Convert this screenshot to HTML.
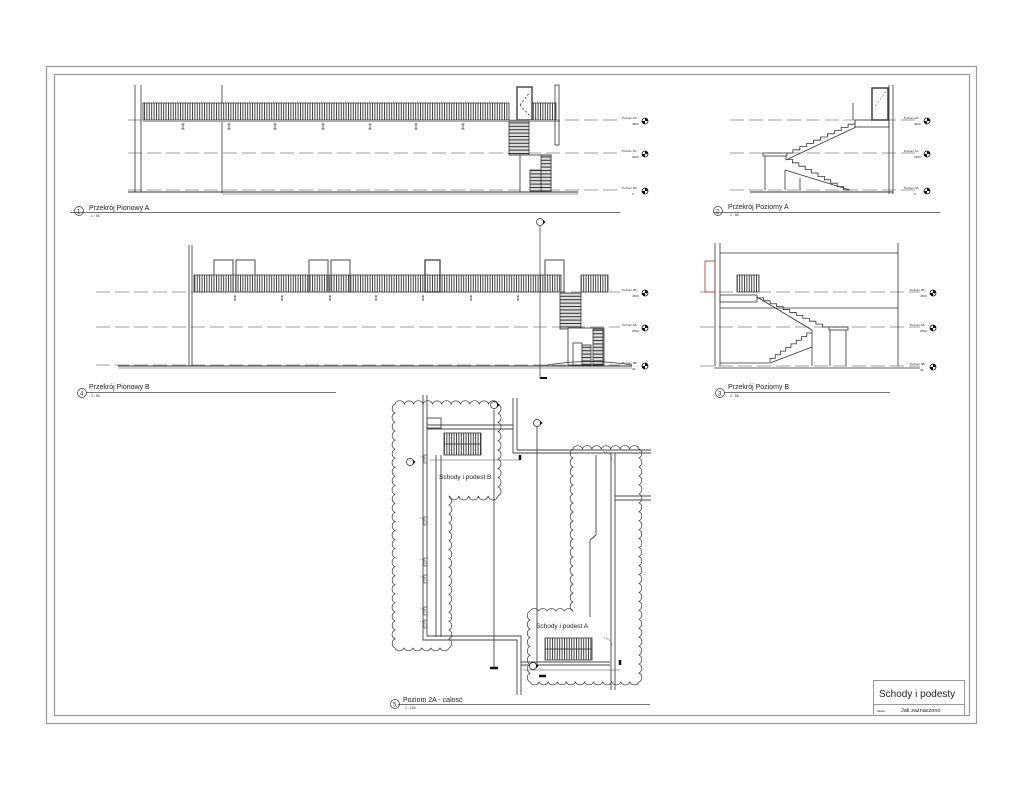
<!DOCTYPE html>
<html><head><meta charset="utf-8"><style>
html,body{margin:0;padding:0;background:#fff;width:1024px;height:791px;overflow:hidden}
svg{display:block}
text{font-family:"Liberation Sans",sans-serif;fill:#222}
</style></head><body>
<svg id="s" width="1024" height="791" viewBox="0 0 1024 791" xmlns="http://www.w3.org/2000/svg">
<defs>
<pattern id="rail" width="2.4" height="10" patternUnits="userSpaceOnUse"><rect width="2.4" height="10" fill="#fff"/><rect width="0.9" height="10" fill="#333"/></pattern>
<pattern id="stair" width="10" height="3.4" patternUnits="userSpaceOnUse"><rect width="10" height="3.4" fill="#ddd"/><rect width="10" height="1" fill="#333"/></pattern>
</defs>
<!-- frames -->
<rect x="46.5" y="66.5" width="930" height="657" fill="none" stroke="#999" stroke-width="1.2"/>
<rect x="54.5" y="74.5" width="915" height="641" fill="none" stroke="#999" stroke-width="1.2"/>
<rect x="873.5" y="680.5" width="91" height="35" fill="none" stroke="#999"/>
<line x1="873" y1="704.5" x2="964" y2="704.5" stroke="#999"/>
<text x="879" y="697" font-size="10">Schody i podesty</text>
<text x="877" y="712" font-size="3">Skala</text>
<text x="901" y="712" font-size="5.5">Jak zaznaczono</text>

<g id="levels" stroke="#444" stroke-width="0.6" stroke-dasharray="14,5" fill="none">
<line x1="128" y1="120" x2="620" y2="120"/><line x1="128" y1="153" x2="620" y2="153"/><line x1="128" y1="190" x2="620" y2="190"/>
<line x1="730" y1="120" x2="915" y2="120"/><line x1="730" y1="153" x2="915" y2="153"/><line x1="730" y1="190" x2="915" y2="190"/>
<line x1="96" y1="292" x2="620" y2="292"/><line x1="96" y1="327" x2="620" y2="327"/><line x1="96" y1="365" x2="620" y2="365"/>
<line x1="700" y1="292" x2="920" y2="292"/><line x1="700" y1="327" x2="920" y2="327"/><line x1="700" y1="366" x2="920" y2="366"/>
</g>
<g id="marks"></g>

<!-- Section 1 -->
<g stroke="#333" stroke-width="0.8" fill="none">
<line x1="135" y1="85" x2="135" y2="192"/><line x1="141" y1="85" x2="141" y2="192"/>
<line x1="222" y1="85" x2="222" y2="193"/>
<rect x="143" y="103" width="366" height="17" fill="url(#rail)"/>
<rect x="529" y="103" width="27" height="17" fill="url(#rail)"/>
<rect x="517" y="87" width="15" height="33" stroke-width="1.3" fill="#fff"/>
<line x1="520" y1="105" x2="530" y2="92" stroke-dasharray="2,2"/><line x1="520" y1="105" x2="530" y2="116" stroke-dasharray="2,2"/>
<line x1="143" y1="121" x2="560" y2="121" stroke="#aaa" stroke-width="2"/>
<rect x="555" y="85" width="4" height="60"/>
<rect x="509" y="121" width="20" height="34" fill="url(#stair)"/>
<rect x="520" y="155" width="31" height="37" fill="#fff"/>
<rect x="541" y="155" width="10" height="37" fill="url(#stair)"/>
<rect x="530" y="170" width="11" height="22" fill="url(#stair)"/>
<line x1="128" y1="192" x2="578" y2="192" stroke-width="1"/>
<line x1="222" y1="194" x2="578" y2="194" stroke="#888"/>
</g>
<g id="ibeamsA" stroke="#333" stroke-width="0.7"></g>
<line x1="70" y1="212.5" x2="620" y2="212.5" stroke="#444" stroke-width="0.7"/>
<circle cx="79" cy="211" r="4.5" fill="none" stroke="#333" stroke-width="0.7"/><text x="77" y="213.5" font-size="6">1</text>
<text x="89" y="210" font-size="7">Przekrój Pionowy A</text><text x="91" y="217" font-size="3.5">1 : 50</text>

<!-- Section 2 -->
<g stroke="#333" stroke-width="0.8" fill="none">
<line x1="889" y1="85" x2="889" y2="194"/><line x1="893" y1="85" x2="893" y2="194"/>
<rect x="872" y="88" width="16" height="32" stroke-width="1.4"/>
<line x1="875" y1="106" x2="886" y2="92" stroke-dasharray="2,2" stroke-width="0.5"/>
<line x1="853" y1="103" x2="853" y2="120"/>
<rect x="855" y="120" width="34" height="7"/>
<rect x="763" y="153" width="24" height="3"/>
<line x1="765" y1="156" x2="765" y2="190"/><line x1="785" y1="170" x2="785" y2="190"/><line x1="800" y1="178" x2="800" y2="190"/>
<line x1="785" y1="170" x2="850" y2="190"/>
<line x1="786" y1="160" x2="856" y2="127"/>
<line x1="750" y1="192" x2="893" y2="192" stroke-width="1"/>
</g>
<g id="zz2" stroke="#333" stroke-width="0.8" fill="none"></g>
<line x1="714" y1="212.5" x2="940" y2="212.5" stroke="#444" stroke-width="0.7"/>
<circle cx="718" cy="211" r="4.5" fill="none" stroke="#333" stroke-width="0.7"/><text x="716" y="213.5" font-size="6">2</text>
<text x="728" y="209" font-size="7">Przekrój Poziomy A</text><text x="730" y="216" font-size="3.5">1 : 50</text>

<!-- Section 4 -->
<g stroke="#333" stroke-width="0.8" fill="none">
<line x1="189" y1="245" x2="189" y2="366"/><line x1="192" y1="245" x2="192" y2="366"/>
<rect x="194" y="275" width="367" height="17" fill="url(#rail)"/>
<rect x="581" y="275" width="27" height="17" fill="url(#rail)"/>
<g stroke="#666" stroke-width="1.2">
<rect x="214" y="260" width="19" height="32"/><rect x="236" y="260" width="19" height="32"/>
<rect x="309" y="260" width="19" height="32"/><rect x="331" y="260" width="19" height="32"/>
<rect x="425" y="260" width="15" height="32" stroke="#333"/>
<rect x="545" y="260" width="19" height="32"/>
</g>
<rect x="560" y="293" width="21" height="36" fill="url(#stair)"/>
<rect x="568" y="328" width="36" height="37" fill="#fff"/>
<rect x="593" y="329" width="10" height="36" fill="url(#stair)"/>
<rect x="573" y="343" width="9" height="22" fill="#fff"/>
<rect x="582" y="345" width="9" height="20" fill="url(#stair)"/>
<line x1="118" y1="366" x2="632" y2="366" stroke-width="1"/>
<line x1="118" y1="368" x2="632" y2="368" stroke="#888"/>
<path d="M547 365 Q590 358 632 365"/>
</g>
<line x1="540" y1="226" x2="540" y2="378" stroke="#333" stroke-width="0.7"/>
<line x1="540" y1="378" x2="547" y2="378" stroke="#111" stroke-width="2"/>
<g id="ibeamsB" stroke="#333" stroke-width="0.7"></g>
<line x1="86" y1="392.5" x2="336" y2="392.5" stroke="#444" stroke-width="0.7"/>
<circle cx="82" cy="393" r="4.5" fill="none" stroke="#333" stroke-width="0.7"/><text x="80" y="395.5" font-size="6">4</text>
<text x="89" y="389" font-size="7">Przekrój Pionowy B</text><text x="91" y="397" font-size="3.5">1 : 50</text>

<!-- Section 3 -->
<g stroke="#333" stroke-width="0.8" fill="none">
<line x1="715" y1="243" x2="715" y2="366"/><line x1="720" y1="243" x2="720" y2="366"/>
<rect x="705" y="261" width="10" height="31" stroke="#a33"/>
<line x1="720" y1="253" x2="898" y2="253"/><line x1="898" y1="243" x2="898" y2="366"/>
<rect x="737" y="275" width="22" height="17" fill="url(#rail)"/>
<rect x="720" y="295" width="37" height="7"/>
<line x1="720" y1="308" x2="898" y2="308"/>
<line x1="757" y1="297" x2="812" y2="330"/>
<rect x="829" y="327" width="19" height="3"/>
<line x1="830" y1="330" x2="830" y2="366"/><line x1="846" y1="330" x2="846" y2="366"/>
<line x1="812" y1="330" x2="812" y2="366"/>
<line x1="770" y1="363" x2="812" y2="347"/>
<line x1="720" y1="363" x2="770" y2="363"/>
<line x1="714" y1="368" x2="920" y2="368"/>
</g>
<g id="zz3" stroke="#333" stroke-width="0.8" fill="none"></g>
<line x1="724" y1="392.5" x2="890" y2="392.5" stroke="#444" stroke-width="0.7"/>
<circle cx="720" cy="393" r="4.5" fill="none" stroke="#333" stroke-width="0.7"/><text x="718" y="395.5" font-size="6">3</text>
<text x="728" y="389" font-size="7">Przekrój Poziomy B</text><text x="730" y="397" font-size="3.5">1 : 50</text>

<!-- Plan 5 -->
<g id="clouds" stroke="#333" stroke-width="0.7" fill="none"></g>
<g stroke="#444" stroke-width="0.9" fill="none">
<path d="M423 395 V640 H517 V695 M427 395 V636 H521 V695"/>
<path d="M427 425 H513 M427 429 H513"/>
<path d="M513 398 V453 H651 M517 398 V450 H651"/>
<path d="M611 453 V690 M615 496 H651 M615 500 H651 M615 453 V690"/>
<path d="M436 455 V637 M441 455 V637"/>
<path d="M596 455 V535 L590 540 V617"/>
<path d="M521 662 H610 M521 665 H610"/>
<rect x="427" y="418" width="14" height="10"/>
<rect x="444" y="433" width="37" height="22" fill="url(#rail)" stroke="#444"/>
<line x1="444" y1="444" x2="481" y2="444"/>
<rect x="545" y="638" width="47" height="22" fill="url(#rail)"/>
<line x1="545" y1="649" x2="592" y2="649"/>
<line x1="430" y1="460" x2="520" y2="460" stroke-width="0.6"/>
<line x1="523" y1="670" x2="620" y2="670" stroke-width="0.6"/>
<line x1="494" y1="410" x2="494" y2="668"/>
<line x1="537" y1="425" x2="537" y2="667"/>
</g>
<g stroke="#111" stroke-width="2.5">
<line x1="520" y1="455" x2="520" y2="460"/><line x1="490" y1="668" x2="498" y2="668"/>
<line x1="539" y1="676" x2="546" y2="676"/><line x1="620" y1="660" x2="620" y2="665"/>
</g>
<g id="doors" stroke="#444" stroke-width="0.6" fill="none"></g>
<g id="secmarks"></g>
<text x="439" y="479" font-size="6.5">Schody i podest B</text>
<text x="536" y="628" font-size="6.5">Schody i podest A</text>
<line x1="398" y1="704.5" x2="650" y2="704.5" stroke="#444" stroke-width="0.7"/>
<circle cx="395" cy="704" r="4.5" fill="none" stroke="#333" stroke-width="0.7"/><text x="393" y="706.5" font-size="6">5</text>
<text x="403" y="702" font-size="7">Poziom 2A - calosc</text><text x="405" y="709" font-size="3.5">1 : 100</text>
</svg>
<script>
const NS="http://www.w3.org/2000/svg";
function el(p,t,a){const e=document.createElementNS(NS,t);for(const k in a)e.setAttribute(k,a[k]);document.getElementById(p).appendChild(e);return e;}
const marks=[[640,120,"Poziom 2A","4600"],[640,153,"Poziom 1A","2460"],[640,190,"Poziom 0A","0"],
[922,120,"Poziom 2A","4600"],[922,153,"Poziom 1A","2460"],[922,190,"Poziom 0A","0"],
[640,292,"Poziom 2B","4600"],[640,327,"Poziom 1B","2500"],[640,365,"Poziom 0B","40"],
[928,292,"Poziom 2B","4600"],[928,327,"Poziom 1B","2500"],[928,366,"Poziom 0B","40"]];
for(const [x,y,a,b] of marks){
 el("marks","text",{x:x-18,y:y-1,"font-size":"3"}).textContent=a;
 el("marks","text",{x:x-8,y:y+5,"font-size":"3"}).textContent=b;
 el("marks","circle",{cx:x+5,cy:y+1,r:3,fill:"#fff",stroke:"#111","stroke-width":0.8});
 el("marks","path",{d:`M${x+5} ${y-2} A3 3 0 0 1 ${x+8} ${y+1} H${x+5}Z M${x+5} ${y+4} A3 3 0 0 1 ${x+2} ${y+1} H${x+5}Z`,fill:"#111"});
}
for(const x of [183,229,275,323,370,416,463]) el("ibeamsA","path",{d:`M${x-1.5} 124 h3 M${x} 124 v5 M${x-1.5} 129 h3`,fill:"none"});
for(const x of [235,282,330,376,423,471,518]) el("ibeamsB","path",{d:`M${x-1} 296 h2 M${x} 296 v4 M${x-1} 300 h2`,fill:"none"});
function zz(g,x0,y0,x1,y1,n){let d=`M${x0} ${y0}`;const dx=(x1-x0)/n,dy=(y1-y0)/n;let x=x0,y=y0;for(let i=0;i<n;i++){y+=dy;d+=` V${y}`;x+=dx;d+=` H${x}`;}el(g,"path",{d});}
zz("zz2",855,121,786,153,10);zz("zz2",786,156,850,190,10);
zz("zz3",757,295,829,327,11);zz("zz3",770,362,812,333,8);
function cloud(pts){let d="";const r=5;for(let i=0;i<pts.length;i++){const [ax,ay]=pts[i],[bx,by]=pts[(i+1)%pts.length];const L=Math.hypot(bx-ax,by-ay),n=Math.max(1,Math.round(L/9));if(i==0)d+=`M${ax} ${ay}`;for(let k=1;k<=n;k++){const px=ax+(bx-ax)*k/n,py=ay+(by-ay)*k/n;d+=` A${r} ${r} 0 0 1 ${px.toFixed(1)} ${py.toFixed(1)}`;}}el("clouds","path",{d:d+"Z"});}
cloud([[395,404],[498,404],[498,496],[449,496],[449,648],[395,648]]);
cloud([[573,449],[639,449],[639,682],[530,682],[530,611],[573,611]]);
for(const [x,y] of [[494,405],[537,423],[410,462],[533,666],[540,222]]){
 el("secmarks","circle",{cx:x,cy:y,r:3.5,fill:"#fff",stroke:"#222","stroke-width":0.7});
 el("secmarks","path",{d:`M${x+3} ${y-2.5} L${x+5.5} ${y} L${x+3} ${y+2.5}Z`,fill:"#111"});
}
for(const y of [455,517,558,575,607,620]){el("doors","rect",{x:424,y:y,width:3,height:8});el("doors","path",{d:`M427 ${y+8} A7 7 0 0 0 420 ${y+1}`,"stroke-dasharray":"1,1"});}
for(const y of [452,638]){el("doors","path",{d:`M604 ${y} A8 8 0 0 1 612 ${y+8}`,"stroke-dasharray":"1,1"});}
</script>
</body></html>
